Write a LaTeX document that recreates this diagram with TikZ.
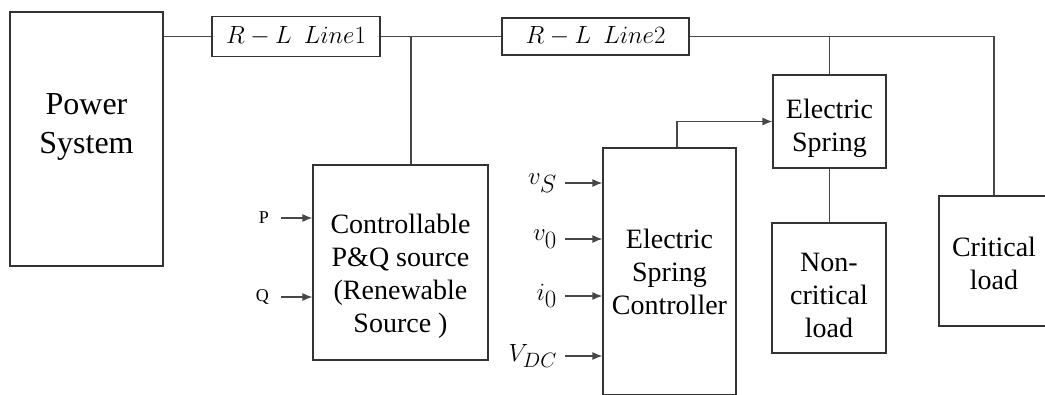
\documentclass[tikz,border=0pt]{standalone}
\usepackage{fontspec}
\setmainfont{Liberation Serif}
\usetikzlibrary{arrows.meta}

\begin{document}
\begin{tikzpicture}[x=1pt,y=-1pt,
  blk/.style={draw=black!80,line width=1.2pt,fill=white,inner sep=0pt},
  txt/.style={align=center,font=\rmfamily\fontsize{28}{33}\selectfont},
  wire/.style={draw=black!72,line width=1.2pt},
  arr/.style={wire,-{Latex[length=10pt,width=8pt]}},
  inp/.style={anchor=east,inner xsep=8pt,inner ysep=0pt}]
  \useasboundingbox (0,0) rectangle (1045,394);
  % source side
  \node[blk,minimum width=153pt,minimum height=254pt,
    label={[txt,font=\rmfamily\fontsize{32}{39}\selectfont,yshift=12.5pt]center:Power\\System}] (ps) at (86.5,139) {};
  \node[blk,minimum width=168pt,minimum height=40pt,font=\fontsize{24}{28}\selectfont] (l1) at (296,36.5) {$R-L\ \ Line1$};
  \node[blk,minimum width=187pt,minimum height=37pt,font=\fontsize{24}{28}\selectfont] (l2) at (595.5,36.5) {$R-L\ \ Line2$};
  \node[blk,minimum width=175pt,minimum height=195pt,
    label={[txt,yshift=-14pt]center:Controllable\\P\&Q source\\(Renewable\\Source )}] (pq) at (400.5,262.5) {};
  % spring side
  \node[blk,minimum width=133pt,minimum height=247pt,
    label={[txt]center:Electric\\Spring\\Controller}] (esc) at (669.5,271.5) {};
  \node[blk,minimum width=113pt,minimum height=93pt,
    label={[txt,yshift=-7pt]center:Electric\\Spring}] (es) at (829.5,121.5) {};
  \node[blk,minimum width=114pt,minimum height=130pt,
    label={[txt,yshift=-7pt]center:Non-\\critical\\load}] (ncl) at (829,288) {};
  \node[blk,minimum width=110pt,minimum height=130pt,
    label={[txt,yshift=-2.5pt]center:Critical\\load}] (cl) at (994,261) {};
  % feeder
  \draw[wire] (ps.east |- l1.west) -- (l1.west);
  \draw[wire] (l1.east) -- (l2.west);
  \draw[wire] ([xshift=10.5pt]pq.north) -- ([xshift=10.5pt]pq.north |- l1.east);
  \draw[wire] (l2.east) -| (cl.north);
  \draw[wire] (es.north) -- (es.north |- l2.east);
  \draw[wire] (es.south) -- (es.south |- ncl.north);
  \draw[arr] ([xshift=7.5pt]esc.north) |- (es.west);
  % inputs
  \foreach \y/\t in {218/P,297/Q} {
    \coordinate (in\t) at (281,\y);
    \node[inp,inner xsep=12pt,font=\rmfamily\fontsize{18}{20}\selectfont] (lbl\t) at (in\t) {\t};
    \draw[arr] (in\t) -- (in\t -| pq.west);
  }
  \foreach \y/\t/\n/\s in {183/v_S/vs/37,239/v_0/vo/37,296/i_0/io/37,356/V_{DC}/vdc/29} {
    \coordinate (in\n) at (565,\y);
    \node[inp,font=\fontsize{\s}{\s}\selectfont] (lbl\n) at (in\n) {$\t$};
    \draw[arr] (in\n) -- (in\n -| esc.west);
  }
\end{tikzpicture}
\end{document}
